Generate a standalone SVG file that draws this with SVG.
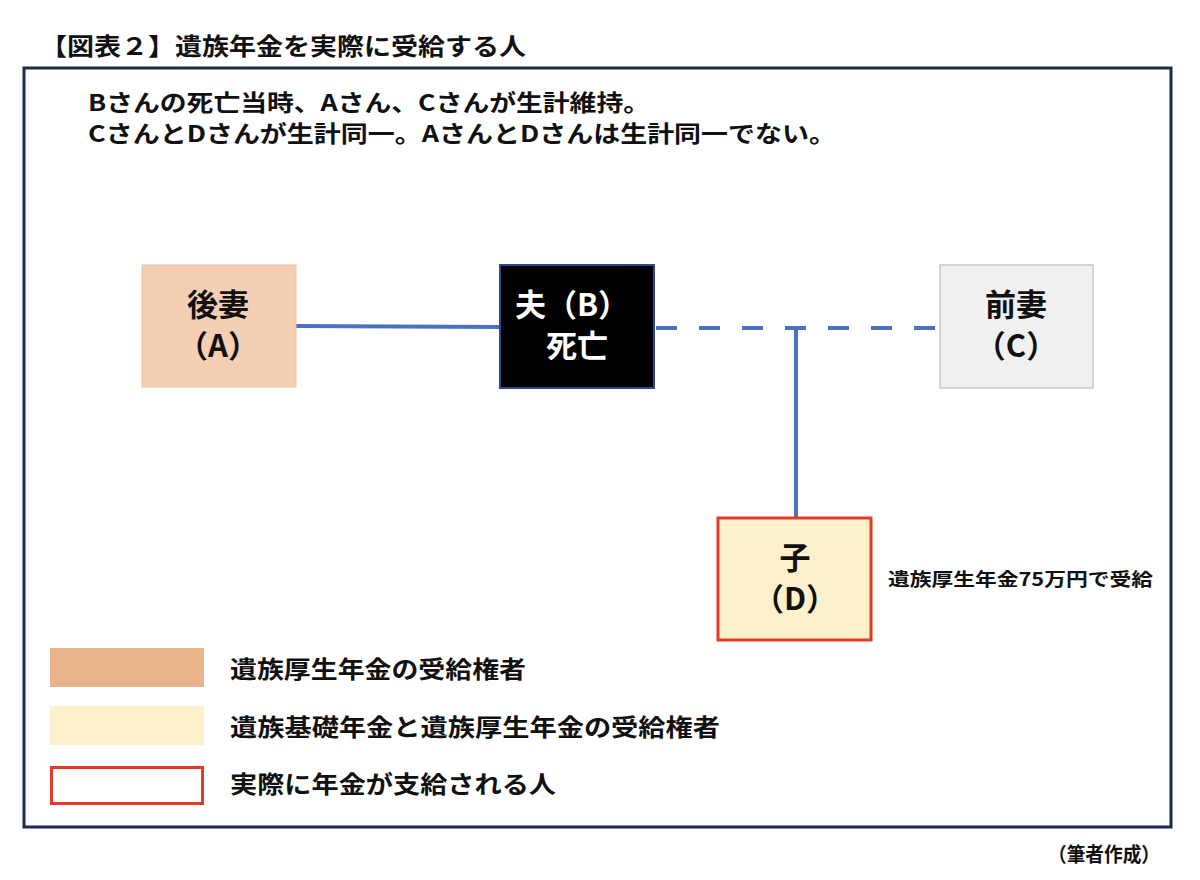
<svg xmlns="http://www.w3.org/2000/svg" width="1200" height="880" viewBox="0 0 1200 880">
<style>
text{font-family:"Noto Sans CJK JP","Noto Sans CJK SC",sans-serif;font-weight:bold;fill:#111}
.node{font-size:31px;text-anchor:middle}
.leg{font-size:24px}
.conn{stroke:#4a72c0;stroke-width:4;fill:none}
</style>
<rect width="1200" height="880" fill="#fff"/>
<text x="40" y="55" font-size="24" textLength="486" lengthAdjust="spacingAndGlyphs">【図表２】遺族年金を実際に受給する人</text>
<rect x="24" y="68" width="1147" height="759" fill="none" stroke="#1f2b4a" stroke-width="3"/>
<text x="88" y="111" font-size="23" textLength="562" lengthAdjust="spacingAndGlyphs">Bさんの死亡当時、Aさん、Cさんが生計維持。</text>
<text x="88" y="142" font-size="23" textLength="748" lengthAdjust="spacingAndGlyphs">CさんとDさんが生計同一。AさんとDさんは生計同一でない。</text>
<g id="connectors">
<line class="conn" x1="296" y1="326" x2="500" y2="327"/>
<line class="conn" x1="656" y1="328" x2="940" y2="328" stroke-dasharray="21,22" stroke-width="4.5"/>
<line class="conn" x1="796" y1="328" x2="796" y2="517"/>
</g>
<g id="nodeA">
<rect x="142" y="265" width="154" height="122" fill="#f5cfb3" stroke="#e9c4a6" stroke-width="1"/>
<text class="node" x="218" y="316">後妻</text>
<text class="node" x="218" y="357">（A）</text>
</g>
<g id="nodeB">
<rect x="500" y="265" width="154" height="123" fill="#000" stroke="#2f4a8a" stroke-width="2"/>
<text class="node" x="572" y="316" style="fill:#fff">夫（B）</text>
<text class="node" x="577" y="357" style="fill:#fff">死亡</text>
</g>
<g id="nodeC">
<rect x="940" y="265" width="153" height="123" fill="#f0f0f0" stroke="#c9c9c9" stroke-width="1.5"/>
<text class="node" x="1016" y="316">前妻</text>
<text class="node" x="1016" y="357">（C）</text>
</g>
<g id="nodeD">
<rect x="718" y="518" width="153" height="122" fill="#fdf1cb" stroke="#e03b2b" stroke-width="3"/>
<text class="node" x="795" y="569">子</text>
<text class="node" x="795" y="610">（D）</text>
</g>
<text x="888" y="586" font-size="18" textLength="265" lengthAdjust="spacingAndGlyphs">遺族厚生年金75万円で受給</text>
<g id="legend">
<rect x="50" y="648" width="154" height="39" fill="#e9b48b"/>
<text class="leg" x="230" y="678" textLength="296" lengthAdjust="spacingAndGlyphs">遺族厚生年金の受給権者</text>
<rect x="50" y="706" width="154" height="39" fill="#fdf1cb"/>
<text class="leg" x="230" y="736" textLength="490" lengthAdjust="spacingAndGlyphs">遺族基礎年金と遺族厚生年金の受給権者</text>
<rect x="51.5" y="767.5" width="151" height="36" fill="#fff" stroke="#e03b2b" stroke-width="3"/>
<text class="leg" x="230" y="793" textLength="326" lengthAdjust="spacingAndGlyphs">実際に年金が支給される人</text>
</g>
<text x="1048" y="862" font-size="20" textLength="112" lengthAdjust="spacingAndGlyphs">（筆者作成）</text>
</svg>
